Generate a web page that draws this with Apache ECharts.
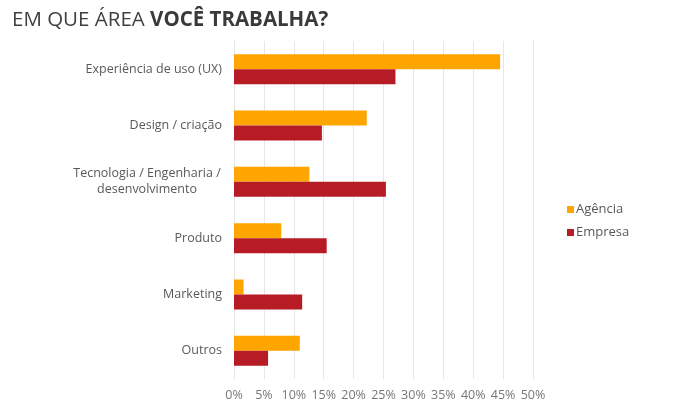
<!DOCTYPE html>
<html>
<head>
<meta charset="utf-8">
<script src="https://cdn.jsdelivr.net/npm/echarts@6/dist/echarts.min.js"></script>
<style>
  html, body { margin: 0; padding: 0; background: #fff; }
  #chart { width: 690px; height: 407px; }
</style>
</head>
<body>
<div id="chart"></div>
<script>
var categories = ['Experiência de uso (UX)', 'Design / criação', 'Tecnologia / Engenharia /\ndesenvolvimento', 'Produto', 'Marketing', 'Outros'];
var agencia = [44.5, 22.2, 12.6, 7.9, 1.6, 11.0];
var empresa = [27.0, 14.7, 25.4, 15.5, 11.4, 5.7];
var xTicks = [0, 5, 10, 15, 20, 25, 30, 35, 40, 45, 50];

var dom = document.getElementById('chart');
var myChart = echarts.init(dom);
var fontFamily = '"Open Sans", Lato, sans-serif';

var option = {
    animation: false,
    textStyle: { fontFamily: fontFamily },
    title: {
        text: '{n|EM QUE ÁREA }{b|VOCÊ TRABALHA?}',
        left: 7,
        top: 5,
        textStyle: {
            rich: {
                n: { fontSize: 20.5, color: '#404040', fontFamily: fontFamily, fontWeight: 'normal' },
                b: { fontSize: 20.5, color: '#3a3a3a', fontFamily: fontFamily, fontWeight: 'bold' }
            }
        }
    },
    legend: {
        data: ['Agência', 'Empresa'],
        orient: 'vertical',
        left: 562,
        top: 198,
        itemWidth: 7,
        itemHeight: 7,
        itemGap: 10,
        icon: 'rect',
        textStyle: { fontSize: 13, color: '#595959', padding: [0, 0, 0, -3] }
    },
    grid: {
        left: 234,
        right: 157,
        top: 41,
        bottom: 28,
        containLabel: false
    },
    xAxis: {
        type: 'value',
        min: xTicks[0],
        max: xTicks[xTicks.length - 1],
        interval: 5,
        axisLine: { show: false },
        axisTick: { show: false },
        splitLine: { lineStyle: { color: '#e6e6e6' } },
        axisLabel: {
            color: '#777',
            fontSize: 12.5,
            margin: 10,
            formatter: '{value}%'
        }
    },
    yAxis: {
        type: 'category',
        inverse: true,
        data: categories,
        axisLine: { show: false },
        axisTick: { show: false },
        axisLabel: {
            color: '#595959',
            fontSize: 12.5,
            margin: 12,
            lineHeight: 16,
            formatter: function (v) {
                if (v.indexOf('\n') < 0) return v;
                return v.split('\n').map(function (s) { return '{c|' + s + '}'; }).join('\n');
            },
            rich: {
                c: { width: 150, align: 'center', color: '#595959', fontSize: 12.5, lineHeight: 16 }
            }
        }
    },
    series: [
        {
            name: 'Agência',
            type: 'bar',
            data: agencia,
            itemStyle: { color: '#ffa500' },
            barWidth: 15,
            barGap: '0%'
        },
        {
            name: 'Empresa',
            type: 'bar',
            data: empresa,
            itemStyle: { color: '#b71c26' },
            barWidth: 15,
            barGap: '0%'
        }
    ]
};
if (option && typeof option === "object") {
    myChart.setOption(option, true);
}
</script>
</body>
</html>
